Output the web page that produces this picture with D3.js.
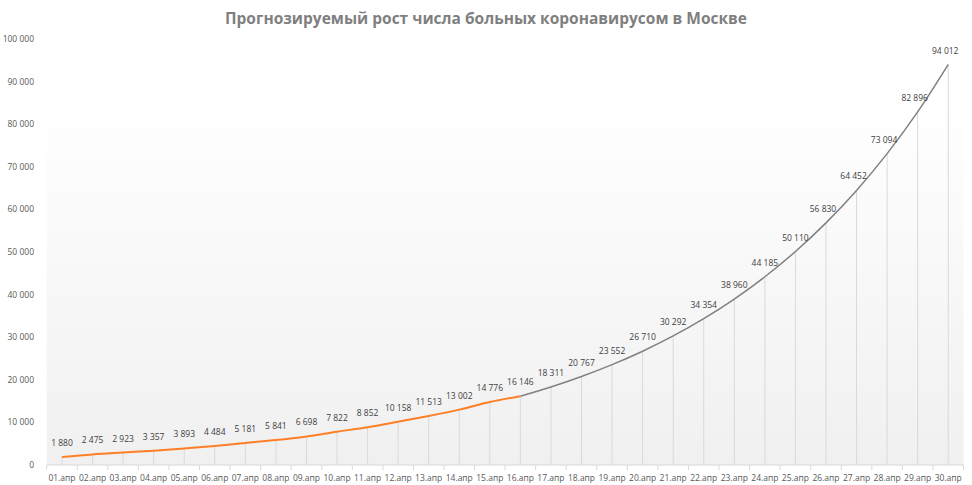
<!DOCTYPE html>
<html><head><meta charset="utf-8">
<script src="https://cdn.jsdelivr.net/npm/d3@7"></script>
<style>body{margin:0;background:#fff}svg{font-family:"Open Sans","Liberation Sans",sans-serif}</style>
</head><body><svg id="c" width="972" height="485"></svg>
<script>
const categories = ["01.апр","02.апр","03.апр","04.апр","05.апр","06.апр","07.апр","08.апр","09.апр","10.апр","11.апр","12.апр","13.апр","14.апр","15.апр","16.апр","17.апр","18.апр","19.апр","20.апр","21.апр","22.апр","23.апр","24.апр","25.апр","26.апр","27.апр","28.апр","29.апр","30.апр"];
const values = [1880,2475,2923,3357,3893,4484,5181,5841,6698,7822,8852,10158,11513,13002,14776,16146,18311,20767,23552,26710,30292,34354,38960,44185,50110,56830,64452,73094,82896,94012];
const actualCount = 16;
const yTicks = [0,10000,20000,30000,40000,50000,60000,70000,80000,90000,100000];
const title = "Прогнозируемый рост числа больных коронавирусом в Москве";

const svg = d3.select("#c");
const fmt = v => d3.format(",")(v).replace(/,/g, " ");
const x = d3.scaleBand().domain(categories).range([46.7, 963.5]);
const y = d3.scaleLinear().domain([0,100000]).range([465, 39]);
const cx = c => x(c) + x.bandwidth()/2;

const defs = svg.append("defs");
const g = defs.append("linearGradient").attr("id","bg").attr("x1",0).attr("y1",0).attr("x2",0).attr("y2",1);
g.append("stop").attr("offset","0%").attr("stop-color","#ffffff");
g.append("stop").attr("offset","100%").attr("stop-color","#f0f0f0");
svg.append("rect").attr("x",46.7).attr("y",y(85000)).attr("width",963.5-46.7).attr("height",465-y(85000)).attr("fill","url(#bg)");

svg.append("text").attr("x",486).attr("y",24).attr("text-anchor","middle").attr("font-size",15.5).attr("font-weight","bold").attr("fill","#7f7f7f").text(title);

svg.append("g").selectAll("text").data(yTicks).join("text")
  .attr("x",34).attr("y",d=>y(d)+3).attr("text-anchor","end").attr("font-size",8.5).attr("fill","#595959").text(fmt);

svg.append("g").selectAll("line").data(values).join("line")
  .attr("x1",(d,i)=>cx(categories[i])).attr("x2",(d,i)=>cx(categories[i]))
  .attr("y1",d=>y(d)).attr("y2",465).attr("stroke","#d9d9d9").attr("stroke-width",1);

const xa = svg.append("g").attr("transform","translate(0,465)");
xa.append("line").attr("x1",46.7).attr("x2",963.5).attr("stroke","#d9d9d9");
xa.selectAll("line.t").data(d3.range(categories.length+1)).join("line").attr("class","t")
  .attr("x1",i=>46.7+i*x.step()).attr("x2",i=>46.7+i*x.step()).attr("y1",0).attr("y2",5).attr("stroke","#d9d9d9");
xa.selectAll("text").data(categories).join("text")
  .attr("x",d=>cx(d)).attr("y",16).attr("text-anchor","middle").attr("font-size",8.5).attr("fill","#595959").text(d=>d);

const line = d3.line().x(d=>cx(d[0])).y(d=>y(d[1])).curve(d3.curveMonotoneX);
const pts = categories.map((c,i)=>[c,values[i]]);
svg.append("path").attr("d",line(pts.slice(actualCount-1))).attr("fill","none").attr("stroke","#808080").attr("stroke-width",1.5);
svg.append("path").attr("d",line(pts.slice(0,actualCount))).attr("fill","none").attr("stroke","#ff7f27").attr("stroke-width",2);

svg.append("g").selectAll("text").data(values).join("text")
  .attr("x",(d,i)=>cx(categories[i])-(i>=25?3:0)).attr("y",d=>y(d)-11).attr("text-anchor","middle")
  .attr("font-size",8.5).attr("fill","#404040").text(fmt);
</script></body></html>
